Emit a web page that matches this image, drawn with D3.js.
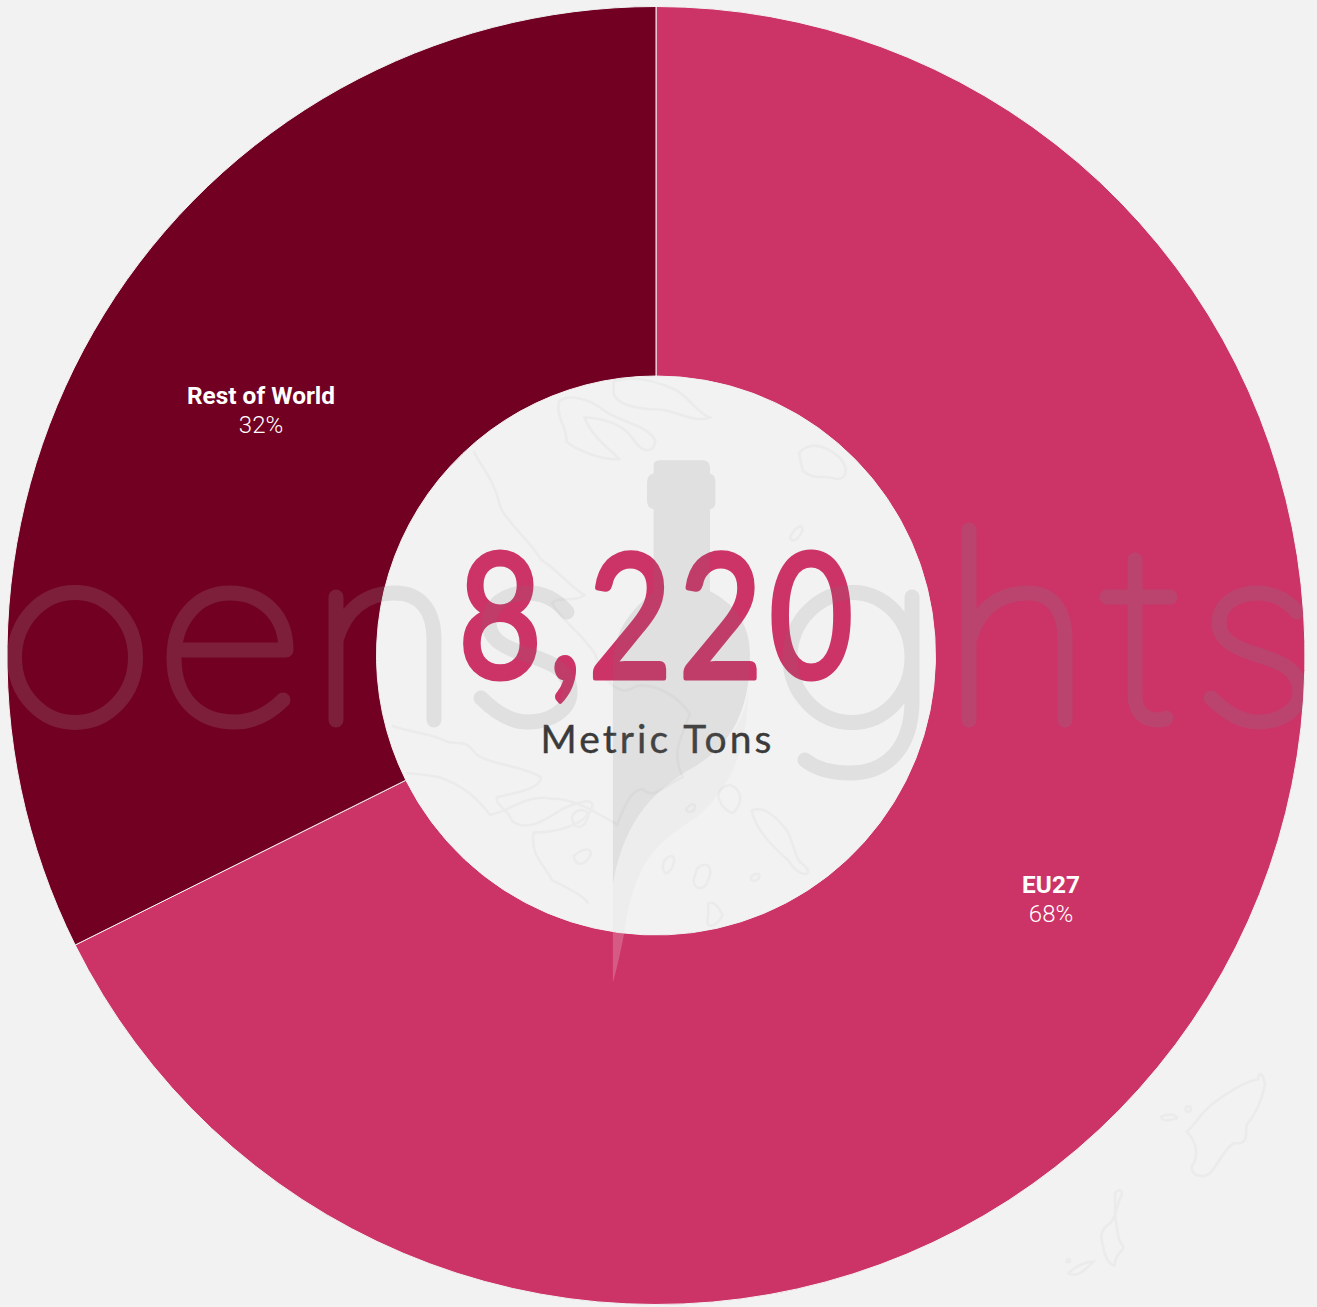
<!DOCTYPE html>
<html><head><meta charset="utf-8">
<script src="https://cdn.jsdelivr.net/npm/d3@7"></script>
<style>html,body{margin:0;padding:0;background:#f2f2f2;overflow:hidden}svg{display:block}</style>
</head><body><div id="c"></div>
<script>
const categories = ["EU27", "Rest of World"];
const tons = [5560, 2660];
const colours = ["#cc3366", "#720022"];
const unitLabel = "Metric Tons";

const W = 1317, H = 1307, cx = 656, cy = 655.5, R = 649, r0 = 279.5;
const svg = d3.select("#c").append("svg").attr("width", W).attr("height", H);
svg.append("rect").attr("width", W).attr("height", H).attr("fill", "#f2f2f2");
const defs = svg.append("defs");

// faint map outlines beneath the ring (zoom-crop coordinates)
const mapCentre = [
 "M520 80C540 60 600 70 640 100C680 130 770 140 785 180C780 210 750 215 720 170C690 130 620 120 590 120C610 170 660 200 685 225C640 230 560 200 540 180C545 150 510 120 520 80Z",
 "M670 30C720 10 790 30 840 50C880 70 900 110 935 120C900 135 860 110 800 100C740 100 680 90 670 60Z",
 "M1180 210C1210 180 1250 190 1290 220C1320 250 1310 280 1280 275C1250 265 1220 280 1190 255Z",
 "M1155 425C1165 400 1190 385 1190 405C1180 425 1165 440 1155 425Z",
 "M285 205C300 240 340 270 360 350C390 400 440 430 470 480C510 500 540 540 590 570C560 590 520 570 500 590C530 640 570 650 620 720C640 790 690 830 730 800C790 790 850 830 880 870C850 940 830 970 860 1030C810 1050 780 1090 750 1060C720 1060 700 1100 680 1150C640 1130 560 1080 500 1085C430 1070 380 1120 330 1125C300 1090 260 1050 190 1030C160 1025 130 1020 100 1020",
 "M60 900C120 920 180 920 210 940C240 950 260 930 290 970C330 1000 420 1000 470 1030C470 1060 400 1070 350 1080C340 1100 380 1110 390 1140C430 1170 480 1140 530 1110C580 1090 620 1080 610 1110C590 1150 520 1170 450 1170C440 1230 480 1250 500 1290C540 1310 590 1330 600 1350",
 "M555 1130C570 1105 600 1110 600 1130C590 1160 560 1170 555 1130Z",
 "M560 1230C590 1205 615 1210 605 1230C590 1255 565 1255 560 1230Z",
 "M870 1110C890 1090 900 1100 890 1115C880 1120 870 1120 870 1110Z",
 "M990 1050C1020 1060 1030 1090 1000 1120C970 1120 930 1060 990 1050Z",
 "M1050 1115C1080 1100 1120 1130 1150 1170C1170 1210 1170 1240 1190 1250C1230 1280 1180 1290 1150 1240C1100 1200 1060 1160 1050 1115Z",
 "M900 1260C930 1240 945 1260 930 1290C920 1320 890 1315 890 1290Z",
 "M1050 1280C1065 1270 1080 1275 1065 1290C1050 1295 1045 1290 1050 1280Z",
 "M930 1350C950 1340 965 1370 970 1380C950 1410 920 1420 930 1380Z",
 "M810 1240C830 1220 845 1230 830 1260C810 1290 800 1260 810 1240Z"
];
const mapCorner = [
 "M560 245C590 220 600 190 640 160C680 130 730 95 775 88C775 65 790 65 795 105C785 150 770 190 740 225C735 250 750 285 700 280C670 300 650 350 630 370C610 385 575 380 575 350C595 320 595 280 560 245Z",
 "M483 200C500 192 530 190 530 205C510 212 485 215 483 200Z",
 "M565 177m-8 0a8 8 0 1 0 16 0a8 8 0 1 0 -16 0Z",
 "M345 430C355 415 370 420 365 435C350 460 350 500 330 520C300 540 300 560 310 590C315 630 335 650 345 645C340 615 375 600 370 590C350 570 355 540 345 500Z",
 "M205 670C225 650 255 635 280 635C260 655 235 685 205 670Z",
 "M205 632m-5 0a5 5 0 1 0 10 0a5 5 0 1 0 -10 0Z"
];
const mapLayer = svg.append("g").attr("fill", "none").attr("stroke", "#ebebeb").attr("stroke-width", 2.6);
mapLayer.append("g").attr("transform", "translate(370,370) scale(0.3636,0.3953)")
  .selectAll("path").data(mapCentre).join("path").attr("d", d => d).attr("vector-effect", "non-scaling-stroke");
mapLayer.append("g").attr("transform", "translate(1000,1050) scale(0.3333)")
  .selectAll("path").data(mapCorner).join("path").attr("d", d => d).attr("vector-effect", "non-scaling-stroke");

// ring
const pie = d3.pie().sort(null).value(d => d);
const arc = d3.arc().innerRadius(r0).outerRadius(R);
const arcs = pie(tons);
const total = d3.sum(tons);
const g = svg.append("g").attr("transform", `translate(${cx},${cy})`);
g.selectAll("path.slice").data(arcs).join("path").attr("class", "slice")
  .attr("d", arc).attr("fill", (d, i) => colours[i]).attr("stroke", "#f2f2f2").attr("stroke-width", 1);

// centre labels
svg.append("text").attr("transform", `translate(${cx + 3},678) scale(0.84,1)`).attr("text-anchor", "middle")
  .attr("font-family", "Lato").attr("font-size", 172).attr("font-weight", 400)
  .attr("letter-spacing", 8).style("font-kerning", "none")
  .attr("fill", colours[0]).attr("stroke", colours[0]).attr("stroke-width", 5).attr("stroke-linejoin", "round")
  .text(d3.format(",")(total));
svg.append("text").attr("x", cx).attr("y", 753).attr("text-anchor", "middle")
  .attr("font-family", "Lato").attr("font-size", 39).attr("font-weight", 400)
  .attr("textLength", 231).attr("lengthAdjust", "spacing")
  .attr("fill", "#3a3a3a").attr("stroke", "#3a3a3a").attr("stroke-width", 0.4).text(unitLabel);

// slice labels
const labelPos = [[1051, 893], [261, 404]];
categories.forEach((c, i) => {
  const t = svg.append("text").attr("text-anchor", "middle").attr("font-family", "Roboto").attr("fill", "#fff");
  t.append("tspan").attr("x", labelPos[i][0]).attr("y", labelPos[i][1]).attr("font-size", 24.4).attr("font-weight", 700).text(c);
  t.append("tspan").attr("x", labelPos[i][0]).attr("y", labelPos[i][1] + 29).attr("font-size", 24).attr("font-weight", 300)
    .text(d3.format(".0%")(tons[i] / total));
});

// watermark overlay
const clipFor = (id, d) => defs.append("clipPath").attr("id", id).append("path")
  .attr("transform", `translate(${cx},${cy})`).attr("d", d);
clipFor("cDark", arc(arcs[1]));
clipFor("cPink", arc(arcs[0]));
clipFor("cMid", d3.arc().innerRadius(0).outerRadius(r0)({startAngle: 0, endAngle: 2 * Math.PI}));
clipFor("cOut", d3.arc().innerRadius(r0).outerRadius(R + 6)({startAngle: 0, endAngle: 2 * Math.PI}));

const sShape = "M1297 612C1285 598 1272 593 1258 593C1235 593 1219 605 1219 623C1219 640 1235 648 1258 655C1285 663 1300 672 1300 692C1300 710 1280 722 1258 722C1240 722 1225 712 1211 698";
const wmPaths = [
 "M75 592.5C108 592.5 135.5 621 135.5 657.5C135.5 694 108 722.5 75 722.5C42 722.5 14.5 694 14.5 657.5C14.5 621 42 592.5 75 592.5Z",
 "M176 650H286C286 615 262 593 230 593C197 593 174 620 174 658C174 697 197 722 235 722C255 722 270 713 283 700",
 "M336 597V720M336 640C345 610 365 593 395 593C420 593 434 610 434 640V720",
 "M969 530V720M969 640C978 610 998 593 1028 593C1052 593 1065 610 1065 640V720",
 "M1135 560V695C1135 712 1145 720 1158 720C1163 720 1165 720 1166 718M1107 597H1170",
 "M912 597V700C912 750 885 773 850 773C830 773 815 768 805 760M912 657C912 621 885 592.5 852 592.5C819 592.5 790 621 790 657.5C790 694 819 722.5 852 722.5C885 722.5 912 694 912 657",
 sShape
];
const wm = defs.append("g").attr("id", "wm").attr("fill", "none").attr("stroke-width", 15)
  .attr("stroke-linecap", "round").attr("stroke-linejoin", "round");
wm.selectAll("path").data(wmPaths).join("path").attr("d", d => d);
wm.append("path").attr("d", sShape).attr("transform", "translate(-730,0)");
[["cDark", "rgb(190,210,210)"], ["cPink", "rgb(95,170,165)"], ["cMid", "rgb(122,122,122)"]].forEach(([c, col]) => {
  svg.append("use").attr("href", "#wm").attr("clip-path", `url(#${c})`).attr("stroke", col).attr("stroke-opacity", 0.15);
});

// bottle
const bottleDark = "M780 240Q780 228 800 228H915Q933 228 935 245V262Q950 265 950 285V335Q950 350 935 352V560C1000 590 1045 640 1045 720C1045 880 980 960 880 1010C790 1060 700 1130 668 1300V760C668 680 690 630 780 560V352Q762 350 762 330V285Q762 265 780 262Z";
const bottleLight = "M668 1300C700 1130 790 1060 880 1010C980 960 1040 880 1040 800C1040 950 1000 1050 900 1130C800 1190 730 1230 700 1420C690 1470 680 1510 668 1550Z";
const bt = "translate(370,370) scale(0.3636,0.3953)";
const bottleG = svg.append("g").attr("clip-path", "url(#cMid)").append("g").attr("transform", bt);
bottleG.append("path").attr("d", bottleDark).attr("fill", "rgb(122,122,122)").attr("fill-opacity", 0.15);
bottleG.append("path").attr("d", bottleLight).attr("fill", "rgb(122,122,122)").attr("fill-opacity", 0.04);
svg.append("g").attr("clip-path", "url(#cOut)").append("path").attr("transform", bt).attr("d", bottleLight)
  .attr("fill", "#fff").attr("fill-opacity", 0.2);
</script></body></html>
